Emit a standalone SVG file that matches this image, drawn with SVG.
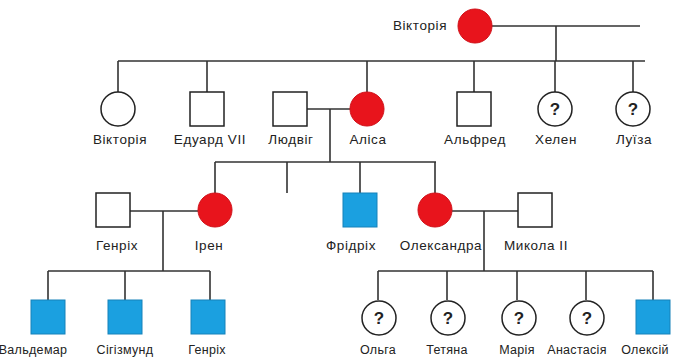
<svg xmlns="http://www.w3.org/2000/svg" width="682" height="357" viewBox="0 0 682 357">
  <style>
    .line { stroke: #333; stroke-width: 1.6; fill: none; }
    .m { fill: #fff; stroke: #222; stroke-width: 1.5; }
    .f { fill: #fff; stroke: #222; stroke-width: 1.5; }
    .carrier { fill: #e8141c; stroke: #d01018; stroke-width: 1; }
    .affected { fill: #1ba0e0; stroke: #1682ba; stroke-width: 1; }
    .lbl { font-family: "Liberation Sans", Arial, sans-serif; font-size: 13.5px; letter-spacing: 0.6px; fill: #222; text-anchor: middle; }
    .lbl4 { font-family: "Liberation Sans", Arial, sans-serif; font-size: 12.5px; letter-spacing: 0.3px; fill: #222; text-anchor: middle; }
    .q { font-family: "Liberation Sans", Arial, sans-serif; font-size: 17px; font-weight: bold; fill: #222; text-anchor: middle; }
  </style>

  <!-- connectors -->
  <g id="connectors">
    <!-- generation I -->
    <path class="line" d="M492 26 H640 M556 26 V61 M118 61 H645"/>
    <path class="line" d="M118 61 V92 M207 61 V92 M367 61 V92 M474 61 V92 M555 61 V92 M633 61 V92"/>
    <!-- Ludwig + Alice -->
    <path class="line" d="M307 109 H350 M330 109 V162 M215 162 H436"/>
    <path class="line" d="M215 162 V193 M287 162 V193 M360 162 V193 M435 162 V193"/>
    <!-- Henry + Irene -->
    <path class="line" d="M130 211 H198 M163 211 V271 M48 271 H210"/>
    <path class="line" d="M48 271 V300 M125 271 V300 M210 271 V300"/>
    <!-- Alexandra + Nicholas II -->
    <path class="line" d="M452 211 H518 M484 211 V271 M378 271 H653"/>
    <path class="line" d="M378 271 V300 M447 271 V300 M517 271 V300 M586 271 V300 M653 271 V300"/>
  </g>

  <!-- generation I -->
  <g id="victoria-queen">
    <circle class="carrier" cx="475" cy="26" r="17"/>
    <text class="lbl" x="420" y="30">Вікторія</text>
  </g>

  <!-- generation II -->
  <g id="victoria">
    <circle class="f" cx="118" cy="109" r="17"/>
    <text class="lbl" x="120" y="144">Вікторія</text>
  </g>
  <g id="edward">
    <rect class="m" x="190" y="92" width="34" height="34"/>
    <text class="lbl" x="210" y="144">Едуард VII</text>
  </g>
  <g id="ludwig">
    <rect class="m" x="273" y="92" width="34" height="34"/>
    <text class="lbl" x="291" y="144">Людвіг</text>
  </g>
  <g id="alice">
    <circle class="carrier" cx="367" cy="109" r="17"/>
    <text class="lbl" x="368" y="144">Аліса</text>
  </g>
  <g id="alfred">
    <rect class="m" x="457" y="92" width="34" height="34"/>
    <text class="lbl" x="475" y="144">Альфред</text>
  </g>
  <g id="helen">
    <circle class="f" cx="555" cy="109" r="17"/>
    <text class="q" x="555" y="115">?</text>
    <text class="lbl" x="556" y="144">Хелен</text>
  </g>
  <g id="louise">
    <circle class="f" cx="633" cy="109" r="17"/>
    <text class="q" x="633" y="115">?</text>
    <text class="lbl" x="634" y="144">Луїза</text>
  </g>

  <!-- generation III -->
  <g id="henry">
    <rect class="m" x="96" y="193" width="34" height="34"/>
    <text class="lbl" x="117" y="250">Генріх</text>
  </g>
  <g id="irene">
    <circle class="carrier" cx="215" cy="210" r="17"/>
    <text class="lbl" x="209" y="250">Ірен</text>
  </g>
  <g id="friedrich">
    <rect class="affected" x="343" y="193" width="34" height="34"/>
    <text class="lbl" x="351" y="250">Фрідріх</text>
  </g>
  <g id="alexandra">
    <circle class="carrier" cx="435" cy="210" r="17"/>
    <text class="lbl" x="441" y="250">Олександра</text>
  </g>
  <g id="nicholas">
    <rect class="m" x="518" y="193" width="34" height="34"/>
    <text class="lbl" x="536" y="250">Микола II</text>
  </g>

  <!-- generation IV -->
  <g id="waldemar">
    <rect class="affected" x="31" y="300" width="34" height="34"/>
    <text class="lbl4" x="33" y="354">Вальдемар</text>
  </g>
  <g id="sigismund">
    <rect class="affected" x="108" y="300" width="34" height="34"/>
    <text class="lbl4" x="125" y="354">Сігізмунд</text>
  </g>
  <g id="heinrich">
    <rect class="affected" x="191" y="300" width="34" height="34"/>
    <text class="lbl4" x="207" y="354">Генріх</text>
  </g>
  <g id="olga">
    <circle class="f" cx="379" cy="318" r="17"/>
    <text class="q" x="379" y="324">?</text>
    <text class="lbl4" x="378" y="354">Ольга</text>
  </g>
  <g id="tatiana">
    <circle class="f" cx="448" cy="318" r="17"/>
    <text class="q" x="448" y="324">?</text>
    <text class="lbl4" x="447" y="354">Тетяна</text>
  </g>
  <g id="maria">
    <circle class="f" cx="519" cy="318" r="17"/>
    <text class="q" x="519" y="324">?</text>
    <text class="lbl4" x="517" y="354">Марія</text>
  </g>
  <g id="anastasia">
    <circle class="f" cx="587" cy="318" r="17"/>
    <text class="q" x="587" y="324">?</text>
    <text class="lbl4" x="577" y="354">Анастасія</text>
  </g>
  <g id="alexei">
    <rect class="affected" x="636" y="300" width="34" height="34"/>
    <text class="lbl4" x="645" y="354">Олексій</text>
  </g>
</svg>
